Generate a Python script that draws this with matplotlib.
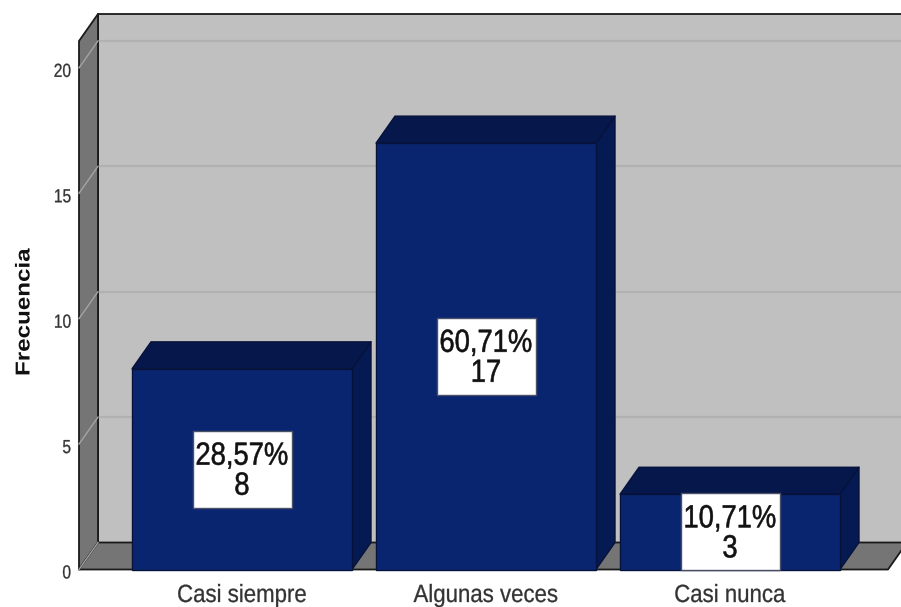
import matplotlib
matplotlib.use("Agg")
import matplotlib.pyplot as plt
import matplotlib.patheffects as pe
from matplotlib.patches import Polygon, Rectangle
from matplotlib.transforms import Affine2D

categories = ["Casi siempre", "Algunas veces", "Casi nunca"]
counts = [8, 17, 3]
percents = ["28,57%", "60,71%", "10,71%"]
yticks = [0, 5, 10, 15, 20]
FONT = "Liberation Sans"


class TallText(pe.AbstractPathEffect):
    """Stretch drawn glyphs vertically about their own baseline origin."""
    def __init__(self, sy, stroke=0.0):
        super().__init__()
        self.sy = sy
        self.stroke = stroke

    def draw_path(self, renderer, gc, tpath, affine, rgbFace=None):
        ox, oy = affine.transform((0, 0))
        t = affine + Affine2D().translate(-ox, -oy).scale(1, self.sy).translate(ox, oy)
        gc0 = renderer.new_gc()
        gc0.copy_properties(gc)
        gc0.set_linewidth(self.stroke)
        renderer.draw_path(gc0, tpath, t, rgbFace)
        gc0.restore()


W, H = 901, 607
fig = plt.figure(figsize=(W / 100, H / 100), dpi=100, facecolor="white")

L, R, B, T = 79, 888, 569.5, 41
ax = fig.add_axes([L / W, 1 - B / H, (R - L) / W, (B - T) / H])
PX_X = 244.0
PX_Y = 25.08
ax.set_xlim((L - 242) / PX_X, (R - 242) / PX_X)
ax.set_ylim(0, (B - T) / PX_Y)
ax.axis("off")

DX, DY = 19 / PX_X, 27 / PX_Y
BW = 220 / PX_X
x0, x1 = ax.get_xlim()
ytop = ax.get_ylim()[1]
EDGE = "#1a1a1a"
WALL = "#c0c0c0"
SIDE = "#757575"
GRID = "#b1b1b1"


def poly(pts, fc, ec=EDGE, lw=1.3, z=1):
    ax.add_patch(Polygon(pts, closed=True, fc=fc, ec=ec, lw=lw, zorder=z,
                         clip_on=False, joinstyle="round"))


poly([(x0 + DX, DY), (x1 + DX, DY), (x1 + DX, ytop + DY), (x0 + DX, ytop + DY)], WALL, z=1)
poly([(x0, 0), (x0 + DX, DY), (x0 + DX, ytop + DY), (x0, ytop)], SIDE, z=1.2)
poly([(x0, 0), (x1, 0), (x1 + DX, DY), (x0 + DX, DY)], SIDE, z=1.2)

for t in yticks:
    ax.plot([x0, x0 + DX], [t, t + DY], color="#a4a4a4", lw=1.0, zorder=1.4, clip_on=False)
    if t > 0:
        ax.plot([x0 + DX, x1 + DX], [t + DY, t + DY], color=GRID, lw=1.6, zorder=1.1, clip_on=False)
    ax.text(x0 - 8 / PX_X, t - 9 / PX_Y, str(t), ha="right", va="baseline", fontsize=11.2,
            family=FONT, color="#333333", zorder=5, clip_on=False,
            path_effects=[TallText(1.22, 0.2)])

FRONT, TOP, RIGHT = "#0a2570", "#06174c", "#051a52"
BAR_EDGE = "#06123a"
for i, (cat, n, pct) in enumerate(zip(categories, counts, percents)):
    a, b = i - BW / 2, i + BW / 2
    poly([(b, 0), (b + DX, DY), (b + DX, n + DY), (b, n)], RIGHT, BAR_EDGE, 1.0, 2)
    poly([(a, n), (b, n), (b + DX, n + DY), (a + DX, n + DY)], TOP, BAR_EDGE, 1.0, 2)
    ax.add_patch(Rectangle((a, 0), BW, n, fc=FRONT, ec=BAR_EDGE, lw=1.0, zorder=2.2, clip_on=False))
    bw, bh = 99 / PX_X, 77 / PX_Y
    cy = n / 2
    ax.add_patch(Rectangle((i - bw / 2, cy - bh / 2), bw, bh, fc="white", ec="#4a5068", lw=1.0,
                           zorder=3, clip_on=False))
    ax.text(i, cy - 25.5 / PX_Y, f"{pct}\n{n}", ha="center", va="baseline", fontsize=19.7,
            family=FONT, color="#111111", linespacing=1.2, zorder=4,
            path_effects=[TallText(1.17, 0.4)])
    ax.text(i, -32.5 / PX_Y, cat, ha="center", va="baseline", fontsize=16, family=FONT,
            color="#333333", zorder=4, clip_on=False, path_effects=[TallText(1.12, 0.2)])

fig.text(24 / W, 1 - 376 / H, "Frecuencia", rotation=90, ha="center", va="bottom",
         fontsize=14.5, family=FONT, fontweight="bold", color="#111111",
         path_effects=[TallText(1.2)])

fig.savefig("out.png", dpi=100, facecolor="white")
